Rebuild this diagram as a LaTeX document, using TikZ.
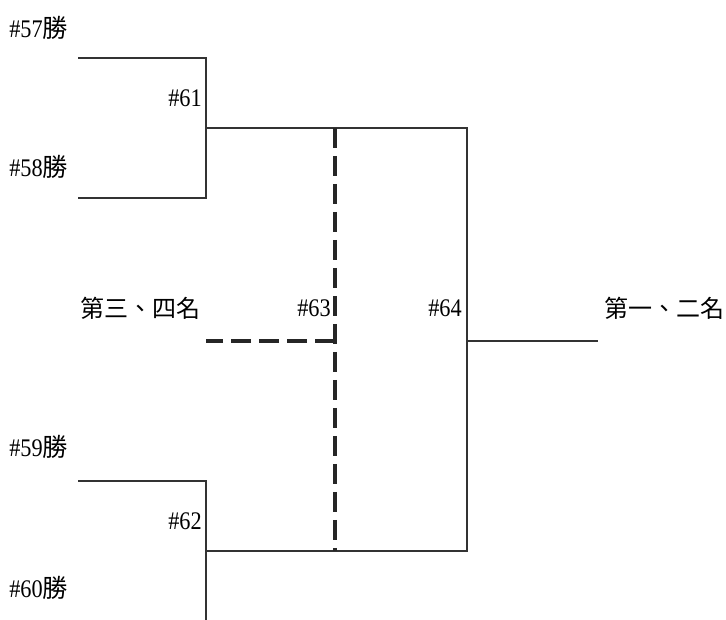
\documentclass[tikz,border=0pt]{standalone}
\usepackage{fontspec}
\setmainfont[FakeStretch=0.88]{Liberation Serif}
\newfontfamily\cjk{Noto Sans CJK TC}
\begin{document}
\begin{tikzpicture}[x=0.75pt,y=-0.75pt,
  lbl/.style={font=\fontsize{19pt}{21pt}\selectfont, inner sep=0pt},
  clbl/.style={font=\fontsize{18pt}{20pt}\selectfont\cjk, inner sep=0pt},
  solidline/.style={line width=1.5pt, black!80},
  dashline/.style={line width=3pt, black!85, dash pattern=on 15pt off 6pt}]
\useasboundingbox (0,0) rectangle (726,620);
% coordinates
\coordinate (a1) at (78,58);
\coordinate (a2) at (206,58);
\coordinate (b1) at (78,198);
\coordinate (b2) at (206,198);
\coordinate (m61) at (206,128);
\coordinate (r61) at (467,128);
\coordinate (c1) at (78,481);
\coordinate (c2) at (206,481);
\coordinate (d2) at (206,620);
\coordinate (m62) at (206,551);
\coordinate (r62) at (467,551);
\coordinate (m64) at (467,341);
\coordinate (w64) at (598,341);
\coordinate (t63) at (335,128);
\coordinate (b63) at (335,551);
\coordinate (m63) at (335,341);
\coordinate (l63) at (206,341);
% solid bracket lines
\draw[solidline] (a1) -- (a2) -- (b2) -- (b1);
\draw[solidline] (m61) -- (r61) -- (r62) -- (m62);
\draw[solidline] (c1) -- (c2) -- (d2);
\draw[solidline] (m64) -- (w64);
% dashed
\draw[dashline] (t63) -- (b63);
\draw[dashline] (m63) -- (l63);
% labels
\node[lbl, anchor=west] (n57) at (9,28) {\#57{\cjk 勝}};
\node[lbl, anchor=west] (n58) at (9,167) {\#58{\cjk 勝}};
\node[lbl, anchor=west] (n59) at (9,447) {\#59{\cjk 勝}};
\node[lbl, anchor=west] (n60) at (9,588) {\#60{\cjk 勝}};
\node[lbl, anchor=east] (n61) at (202,98) {\#61};
\node[lbl, anchor=east] (n62) at (202,521) {\#62};
\node[lbl, anchor=east] (n63) at (331,308) {\#63};
\node[lbl, anchor=east] (n64) at (462,308) {\#64};
\node[clbl, anchor=west] (p34) at (80,308) {第三、四名};
\node[clbl, anchor=west] (p12) at (604,308) {第一、二名};
\end{tikzpicture}
\end{document}
